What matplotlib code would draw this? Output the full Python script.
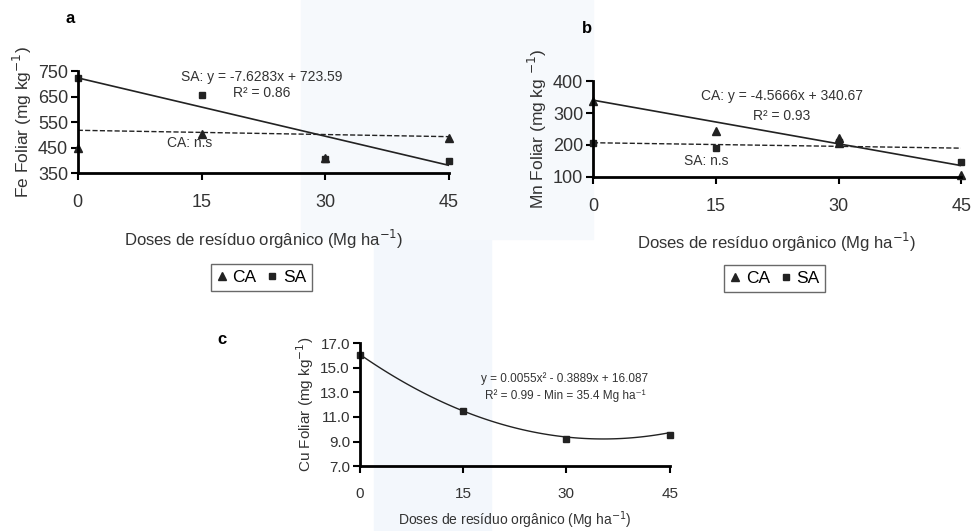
import numpy as np
import matplotlib.pyplot as plt
from matplotlib.patches import Rectangle

plt.rcParams['font.family'] = ['Liberation Sans', 'DejaVu Sans']

doses = [0, 15, 30, 45]

# a - Fe
fe_ca = [450, 505, 410, 487]
fe_sa = [722, 658, 405, 398]
fe_ca_ns = [518, 493]          # dashed line ends (n.s)
fe_sa_coef = [-7.6283, 723.59]

# b - Mn
mn_ca = [338, 245, 222, 106]
mn_ca2 = [None, None, 205, None]
mn_sa = [206, 190, 210, 148]
mn_sa_ns = [207, 190]
mn_ca_coef = [-4.5666, 340.67]

# c - Cu
cu = [16.0, 11.5, 9.2, 9.5]
cu_coef = [0.0055, -0.3889, 16.087]

xlabel = 'Doses de resíduo orgânico (Mg ha$^{-1}$)'
ink = '#333333'

fig = plt.figure(figsize=(9.72, 5.31), dpi=100)
fig.patch.set_facecolor('white')
# faint blue tint of the scan
fig.patches.append(Rectangle((0.385, 0.0), 0.12, 1.0, transform=fig.transFigure,
                             color='#f3f7fc', zorder=-10))
fig.patches.append(Rectangle((0.31, 0.55), 0.30, 0.45, transform=fig.transFigure,
                             color='#f6f9fc', zorder=-10))


def style(ax, ymin, ymax, yticks, fs=13):
    ax.set_xlim(0, 45)
    ax.set_ylim(ymin, ymax)
    ax.set_xticks(doses)
    ax.set_yticks(yticks)
    ax.patch.set_alpha(0)
    for s in ['top', 'right']:
        ax.spines[s].set_visible(False)
    ax.spines['left'].set_linewidth(2)
    ax.spines['bottom'].set_linewidth(2)
    ax.tick_params(axis='y', direction='out', length=5, width=1.5, labelsize=fs, pad=2, labelcolor=ink)
    ax.tick_params(axis='x', direction='out', length=5, width=1.5, labelsize=fs, pad=10, labelcolor=ink)
    ax.set_xlabel(xlabel, fontsize=12, color=ink, labelpad=12)


x = np.array(doses, dtype=float)
xx = np.linspace(0, 45, 100)

# panel a
ax1 = fig.add_axes([0.080, 0.674, 0.382, 0.192])
style(ax1, 350, 750, [350, 450, 550, 650, 750])
ax1.plot([0, 45], fe_ca_ns, '--', color='#222222', lw=1)
ax1.plot([0, 45], np.polyval(fe_sa_coef, [0, 45]), '-', color='#222222', lw=1.2)
ax1.plot(x, fe_ca, '^', color='#222222', ms=6, clip_on=False, ls='none', label='CA')
ax1.plot(x, fe_sa, 's', color='#222222', ms=5, clip_on=False, ls='none', label='SA')
ax1.set_ylabel('Fe Foliar (mg kg$^{-1}$)', fontsize=12.5, color=ink, labelpad=3)
ax1.text(22.3, 727, 'SA: y = -7.6283x + 723.59', fontsize=10, ha='center', va='center', color=ink)
ax1.text(22.3, 663, 'R² = 0.86', fontsize=10, ha='center', va='center', color=ink)
ax1.text(13.5, 468, 'CA: n.s', fontsize=10, ha='center', va='center', color=ink)
fig.text(0.072, 0.965, 'a', fontsize=12, fontweight='bold', ha='center', va='center')
fig.legend(*ax1.get_legend_handles_labels(), loc='center', bbox_to_anchor=(0.269, 0.478),
           ncol=2, fontsize=12.5, frameon=True, fancybox=False, edgecolor='#444444',
           handlelength=0.6, handletextpad=0.3, columnspacing=0.6, borderpad=0.35)

# panel b
ax2 = fig.add_axes([0.610, 0.667, 0.379, 0.180])
style(ax2, 100, 400, [100, 200, 300, 400])
ax2.plot([0, 45], mn_sa_ns, '--', color='#222222', lw=1)
ax2.plot([0, 45], np.polyval(mn_ca_coef, [0, 45]), '-', color='#222222', lw=1.2)
ax2.plot(x, mn_ca, '^', color='#222222', ms=6, clip_on=False, ls='none', label='CA')
ax2.plot(x, mn_sa, 's', color='#222222', ms=5, clip_on=False, ls='none', label='SA')
ax2.plot([30], [mn_ca2[2]], '^', color='#222222', ms=6, clip_on=False)
ax2.set_ylabel('Mn Foliar (mg kg $^{-1}$)', fontsize=12.5, color=ink, labelpad=3)
ax2.text(23.1, 353, 'CA: y = -4.5666x + 340.67', fontsize=10, ha='center', va='center', color=ink)
ax2.text(23.1, 292, 'R² = 0.93', fontsize=10, ha='center', va='center', color=ink)
ax2.text(13.8, 150, 'SA: n.s', fontsize=10, ha='center', va='center', color=ink)
fig.text(0.604, 0.947, 'b', fontsize=12, fontweight='bold', ha='center', va='center')
fig.legend(*ax2.get_legend_handles_labels(), loc='center', bbox_to_anchor=(0.797, 0.476),
           ncol=2, fontsize=12.5, frameon=True, fancybox=False, edgecolor='#444444',
           handlelength=0.6, handletextpad=0.3, columnspacing=0.6, borderpad=0.35)

# panel c
ax3 = fig.add_axes([0.370, 0.122, 0.319, 0.232])
style(ax3, 7.0, 17.0, [7.0, 9.0, 11.0, 13.0, 15.0, 17.0], fs=11)
ax3.yaxis.set_major_formatter(plt.FormatStrFormatter('%.1f'))
ax3.plot(xx, np.polyval(cu_coef, xx), '-', color='#222222', lw=1)
ax3.plot(x, cu, 's', color='#222222', ms=5, clip_on=False, ls='none')
ax3.set_ylabel('Cu Foliar (mg kg$^{-1}$)', fontsize=11, color=ink, labelpad=3)
ax3.set_xlabel(xlabel, fontsize=10, color=ink, labelpad=6)
ax3.text(29.8, 14.1, 'y = 0.0055x² - 0.3889x + 16.087', fontsize=8.5, ha='center', va='center', color=ink)
ax3.text(29.8, 12.75, 'R² = 0.99 - Min = 35.4 Mg ha⁻¹', fontsize=8.5, ha='center', va='center',
         color=ink, family=['Liberation Sans', 'DejaVu Sans'])
fig.text(0.228, 0.360, 'c', fontsize=12, fontweight='bold', ha='center', va='center')

fig.savefig('out.png', dpi=100)
